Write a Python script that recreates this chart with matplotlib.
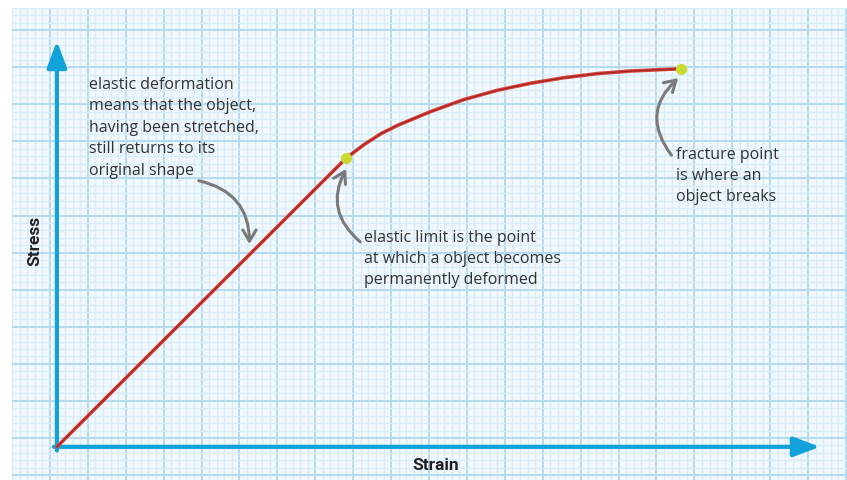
import numpy as np
import matplotlib
matplotlib.use("Agg")
import matplotlib.pyplot as plt

plt.rcParams["savefig.bbox"] = "standard"

# stress-strain curve, one grid square = one unit
strain = [0, 7.63, 8.11, 8.55, 9.0, 9.87, 10.74, 11.62, 12.5, 13.38, 14.26, 15.13, 16.01, 16.45]
stress = [0, 7.79, 8.16, 8.45, 8.68, 9.05, 9.37, 9.62, 9.81, 9.96, 10.07, 10.14, 10.18, 10.2]
elastic_limit = (7.63, 7.79)
fracture_point = (16.45, 10.2)

notes = [
    "elastic deformation\nmeans that the object,\nhaving been stretched,\nstill returns to its\noriginal shape",
    "elastic limit is the point\nat which a object becomes\npermanently deformed",
    "fracture point\nis where an\nobject breaks",
]

axis_blue = "#12a2da"
text_col = "#333333"
arrow_col = "#7a7a7a"

fig = plt.figure(figsize=(8.47, 4.8), dpi=100)
fig.patch.set_facecolor("white")
ax = fig.add_axes([12 / 847, 0, 835 / 847, 472 / 480])
ax.set_xlim(-1.13, 20.842)
ax.set_ylim(-0.895, 11.526)
ax.set_facecolor("#f1f8fc")
for s in ax.spines.values():
    s.set_visible(False)

# graph paper
ax.set_xticks(np.arange(-0.184, 21, 1))
ax.set_xticks(np.arange(-1.184, 21, 0.2), minor=True)
ax.set_yticks(np.arange(-0.76, 12, 1))
ax.set_yticks(np.arange(-0.76, 12, 0.2), minor=True)
ax.grid(which="major", color="#b6dbee", lw=1.4)
ax.grid(which="minor", color="#d9edf7", lw=1.0)
ax.tick_params(which="both", length=0, labelbottom=False, labelleft=False)
ax.set_axisbelow(True)

# axes with arrow heads
arrow_kw = dict(arrowstyle="-|>,head_length=0.8,head_width=0.3", color=axis_blue,
                lw=3, mutation_scale=20, shrinkA=0, shrinkB=0)
ax.annotate("", xy=(20.13, 0), xytext=(-0.08, 0), arrowprops=arrow_kw)
ax.annotate("", xy=(0, 10.95), xytext=(0, -0.1), arrowprops=arrow_kw)

label_font = ["Liberation Sans Narrow", "Roboto", "DejaVu Sans"]
ax.text(10.0, -0.5, "Strain", ha="center", va="center", fontsize=12.5,
        fontweight="bold", family=label_font, color="#222222")
ax.text(-0.58, 5.55, "Stress", ha="center", va="center", rotation=90, fontsize=12.5,
        fontweight="bold", family=label_font, color="#222222")

# curve
ax.plot(strain, stress, color="#d8453c", lw=2.6, solid_capstyle="round", zorder=3)
ax.plot(strain, stress, color="#a52222", lw=0.9, zorder=3)
for p in (elastic_limit, fracture_point):
    ax.plot(*p, "o", color="#c8db2e", markersize=8, markeredgewidth=0, zorder=4)

# notes
txt_kw = dict(fontsize=11.5, family=["Open Sans", "DejaVu Sans"], color=text_col,
              va="top", ha="left", linespacing=1.45)
ax.text(0.84, 9.98, notes[0], **txt_kw)
ax.text(8.1, 5.86, notes[1], **txt_kw)
ax.text(16.34, 8.1, notes[2], **txt_kw)

note_arrow = dict(arrowstyle="->,head_length=0.5,head_width=0.3", color=arrow_col,
                  lw=2.2, mutation_scale=16, shrinkA=0, shrinkB=0)
ax.annotate("", xy=(5.08, 5.47), xytext=(3.74, 7.18),
            arrowprops=dict(note_arrow, connectionstyle="arc3,rad=-0.4"))
ax.annotate("", xy=(7.63, 7.5), xytext=(8.0, 5.53),
            arrowprops=dict(note_arrow, connectionstyle="arc3,rad=-0.4"))
ax.annotate("", xy=(16.39, 9.95), xytext=(16.21, 7.87),
            arrowprops=dict(note_arrow, connectionstyle="arc3,rad=-0.45"))

fig.savefig("out.png", dpi=100)
